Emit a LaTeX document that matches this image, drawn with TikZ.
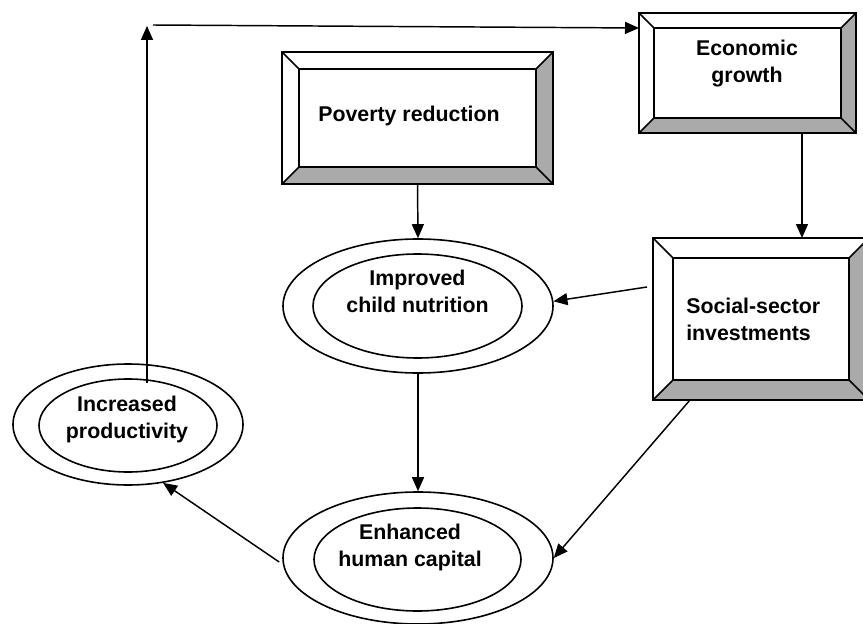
\documentclass[tikz,border=0pt]{standalone}
\usepackage{fontspec}
\setmainfont{Liberation Sans}
\usetikzlibrary{shapes.geometric,arrows.meta,calc}
\definecolor{bevgray}{RGB}{170,170,170}
\newcommand\bevelize[2]{%
  \fill[bevgray] (#1.south west) -- (#1.south east) -- ($(#1.south east)+(-#2,-#2)$) -- ($(#1.south west)+(#2,-#2)$) -- cycle;
  \fill[bevgray] (#1.south east) -- (#1.north east) -- ($(#1.north east)+(-#2,#2)$) -- ($(#1.south east)+(-#2,-#2)$) -- cycle;
  \draw[shapeline] ($(#1.north west)+(#2,#2)$) rectangle ($(#1.south east)+(-#2,-#2)$);
  \draw[shapeline] (#1.north west) -- ++(#2,#2) (#1.north east) -- ++(-#2,#2)
                   (#1.south west) -- ++(#2,-#2) (#1.south east) -- ++(-#2,-#2);
  \draw[shapeline] (#1.north west) rectangle (#1.south east);
}
\tikzset{
  x=0.75pt, y=-0.75pt,
  shapeline/.style={line width=1.2pt, line join=miter},
  bevbox/.style={rectangle, inner sep=0pt, outer sep=0pt},
  ring/.style={ellipse, draw, line width=1.2pt, inner sep=0pt},
  lbl/.style={inner sep=0pt, align=center, font=\bfseries\fontsize{16}{20.25}\selectfont},
  conn/.style={line width=1.1pt, -{Triangle[length=10.5pt,width=9pt]}},
}
\begin{document}
\begin{tikzpicture}
\useasboundingbox (0,0) rectangle (863,624);
% bevelled boxes
\node[bevbox, minimum width=271*0.75pt, minimum height=132*0.75pt] (pov) at (417.5,118) {};
\bevelize{pov}{17}
\node[bevbox, minimum width=217*0.75pt, minimum height=120*0.75pt] (econ) at (747.5,73) {};
\bevelize{econ}{15}
\node[bevbox, minimum width=216*0.75pt, minimum height=162*0.75pt] (soc) at (761,319) {};
\bevelize{soc}{20}
% ellipses
\node[ring, minimum width=270*0.75pt, minimum height=134*0.75pt] (nut) at (418,306) {};
\node[ring, minimum width=209*0.75pt, minimum height=104*0.75pt] (nutI) at (417.5,306) {};
\node[ring, minimum width=270*0.75pt, minimum height=132*0.75pt] (hum) at (418,558) {};
\node[ring, minimum width=207*0.75pt, minimum height=103*0.75pt] (humI) at (417.5,559.5) {};
\node[ring, minimum width=230*0.75pt, minimum height=121*0.75pt] (prod) at (128,424.5) {};
\node[ring, minimum width=178*0.75pt, minimum height=93*0.75pt] (prodI) at (128,425.5) {};
% labels
\node[lbl, anchor=base] (povT) at (409,122) {Poverty reduction};
\node[lbl] (econT) at (747,63.7) {Economic\\growth};
\node[lbl, align=left, anchor=west] (socT) at (686,319) {Social-sector\\investments};
\node[lbl] (nutT) at (417.5,291) {Improved\\child nutrition};
\node[lbl] (humT) at (410,547.7) {Enhanced\\human capital};
\node[lbl] (prodT) at (127,419) {Increased\\productivity};
% connectors
\coordinate (prodStart) at (147,383);
\coordinate (topLeft) at (147,26);
\coordinate (topStart) at (153,25);
\draw[conn] (pov.south) -- (nut.north);
\draw[conn] ($(econ.south west)+(163,0)$) -- ($(soc.north west)+(149,0)$);
\draw[conn] ($(soc.west)+(-6,-32)$) -- (nut.2);
\draw[conn] (nut.south) -- (hum.north);
\draw[conn] ($(soc.south west)+(37,0)$) -- (hum.east);
\draw[conn] ($(hum.west)+(-3,4)$) -- (prod.-59);
\draw[conn] (prodStart) -- (topLeft);
\draw[conn] (topStart) -- ($(econ.north west)+(0,15)$);
\end{tikzpicture}
\end{document}
